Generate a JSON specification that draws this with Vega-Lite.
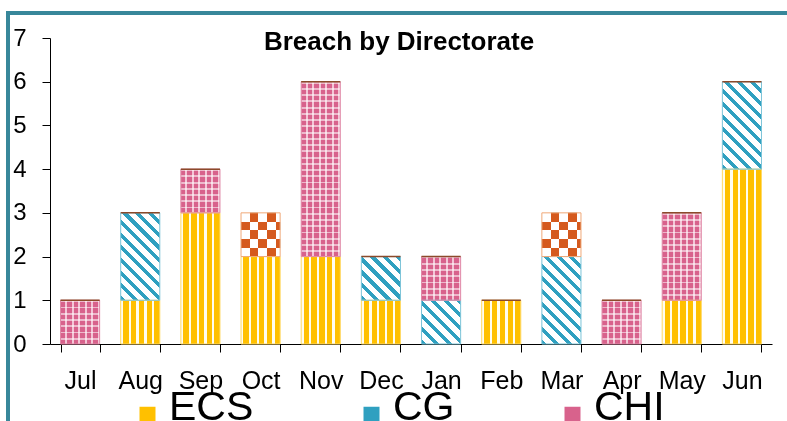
{
  "$schema": "https://vega.github.io/schema/vega-lite/v6.json",
  "autosize": {"type": "none"},
  "padding": {"left": 8, "top": 13, "right": -3, "bottom": -3},
  "width": 782,
  "height": 411,
  "background": "white",
  "config": {
    "font": "Liberation Sans",
    "view": {"stroke": "#38879A", "strokeWidth": 4, "fill": "white"}
  },
  "title": {"text": "Breach by Directorate", "font": "Liberation Sans", "fontSize": 26, "fontWeight": "bold", "color": "black", "anchor": "middle", "frame": "group", "baseline": "alphabetic", "offset": -63},
  "data": {"values": [
    {"month": "Jul", "series": "CHI", "n": 1, "k": 3},
    {"month": "Jul", "series": "Other", "n": 0, "k": 4},
    {"month": "Aug", "series": "ECS", "n": 1, "k": 1},
    {"month": "Aug", "series": "CG", "n": 2, "k": 2},
    {"month": "Aug", "series": "Other", "n": 0, "k": 4},
    {"month": "Sep", "series": "ECS", "n": 3, "k": 1},
    {"month": "Sep", "series": "CHI", "n": 1, "k": 3},
    {"month": "Sep", "series": "Other", "n": 0, "k": 4},
    {"month": "Oct", "series": "ECS", "n": 2, "k": 1},
    {"month": "Oct", "series": "Other", "n": 1, "k": 4},
    {"month": "Nov", "series": "ECS", "n": 2, "k": 1},
    {"month": "Nov", "series": "CHI", "n": 4, "k": 3},
    {"month": "Nov", "series": "Other", "n": 0, "k": 4},
    {"month": "Dec", "series": "ECS", "n": 1, "k": 1},
    {"month": "Dec", "series": "CG", "n": 1, "k": 2},
    {"month": "Dec", "series": "Other", "n": 0, "k": 4},
    {"month": "Jan", "series": "CG", "n": 1, "k": 2},
    {"month": "Jan", "series": "CHI", "n": 1, "k": 3},
    {"month": "Jan", "series": "Other", "n": 0, "k": 4},
    {"month": "Feb", "series": "ECS", "n": 1, "k": 1},
    {"month": "Feb", "series": "Other", "n": 0, "k": 4},
    {"month": "Mar", "series": "CG", "n": 2, "k": 2},
    {"month": "Mar", "series": "Other", "n": 1, "k": 4},
    {"month": "Apr", "series": "CHI", "n": 1, "k": 3},
    {"month": "Apr", "series": "Other", "n": 0, "k": 4},
    {"month": "May", "series": "ECS", "n": 1, "k": 1},
    {"month": "May", "series": "CHI", "n": 2, "k": 3},
    {"month": "May", "series": "Other", "n": 0, "k": 4},
    {"month": "Jun", "series": "ECS", "n": 4, "k": 1},
    {"month": "Jun", "series": "CG", "n": 2, "k": 2},
    {"month": "Jun", "series": "Other", "n": 0, "k": 4}
  ]},
  "encoding": {
    "x": {"field": "month", "type": "nominal", "sort": null,
      "scale": {"range": [42, 764], "paddingInner": 0.35, "paddingOuter": 0.175},
      "axis": {"title": null, "labelAngle": 0, "labelFontSize": 25, "labelFont": "Liberation Sans", "labelColor": "black", "domainColor": "black", "tickColor": "black", "tickSize": 8, "tickBand": "extent", "labelPadding": 16, "offset": -80, "grid": false}},
    "y": {"field": "n", "type": "quantitative", "stack": "zero",
      "scale": {"domain": [0, 7], "range": [331, 25], "nice": false},
      "axis": {"title": null, "values": [0, 1, 2, 3, 4, 5, 6, 7], "labelFontSize": 24, "labelFont": "Liberation Sans", "labelColor": "black", "domainColor": "black", "tickColor": "black", "tickSize": 8, "labelPadding": 16, "labelFlush": false, "offset": -42, "grid": false}},
    "order": {"field": "k", "type": "quantitative"},
    "detail": {"field": "series", "type": "nominal"}
  },
  "layer": [
    {
      "mark": {"type": "bar", "strokeWidth": 0},
      "encoding": {
        "fill": {
          "field": "series", "type": "nominal",
          "scale": {"domain": ["ECS", "CG", "CHI", "Other"], "range": ["#FFC000", "#2FA0C0", "#D8628C", "#D55A1E"]},
          "legend": {
            "orient": "none", "legendX": 119, "legendY": 381, "direction": "horizontal", "title": null,
            "values": ["ECS", "CG", "CHI"], "symbolType": "square", "symbolSize": 256, "symbolStrokeWidth": 0,
            "labelFontSize": 41, "labelFont": "Liberation Sans", "labelColor": "black", "labelOffset": 1,
            "columnPadding": 97, "padding": 0, "labelLimit": 300,
            "encode": {"labels": {"update": {"dy": {"value": -7}}}}
          },
          "condition": [
            {"test": "datum.series === 'ECS'", "value": {"gradient": "linear", "x1": 0, "y1": 0, "x2": 1, "y2": 0, "stops": [
              {"offset": 0, "color": "#FFFDF0"}, {"offset": 0.06, "color": "#FFFDF0"}, {"offset": 0.06, "color": "#FFC000"}, {"offset": 0.2, "color": "#FFC000"},
              {"offset": 0.2, "color": "#FFFDF0"}, {"offset": 0.26, "color": "#FFFDF0"}, {"offset": 0.26, "color": "#FFC000"}, {"offset": 0.4, "color": "#FFC000"},
              {"offset": 0.4, "color": "#FFFDF0"}, {"offset": 0.46, "color": "#FFFDF0"}, {"offset": 0.46, "color": "#FFC000"}, {"offset": 0.6, "color": "#FFC000"},
              {"offset": 0.6, "color": "#FFFDF0"}, {"offset": 0.66, "color": "#FFFDF0"}, {"offset": 0.66, "color": "#FFC000"}, {"offset": 0.8, "color": "#FFC000"},
              {"offset": 0.8, "color": "#FFFDF0"}, {"offset": 0.86, "color": "#FFFDF0"}, {"offset": 0.86, "color": "#FFC000"}, {"offset": 1, "color": "#FFC000"}]}},
            {"test": "datum.series === 'CG' && datum.n === 1", "value": {"gradient": "linear", "x1": 0, "y1": 1, "x2": 0.942, "y2": -0.052, "stops": [
              {"offset": 0, "color": "#2FA0C0"}, {"offset": 0.0625, "color": "#2FA0C0"}, {"offset": 0.0625, "color": "#FFFFFF"}, {"offset": 0.15625, "color": "#FFFFFF"},
              {"offset": 0.15625, "color": "#2FA0C0"}, {"offset": 0.21875, "color": "#2FA0C0"}, {"offset": 0.21875, "color": "#FFFFFF"}, {"offset": 0.3125, "color": "#FFFFFF"},
              {"offset": 0.3125, "color": "#2FA0C0"}, {"offset": 0.375, "color": "#2FA0C0"}, {"offset": 0.375, "color": "#FFFFFF"}, {"offset": 0.46875, "color": "#FFFFFF"},
              {"offset": 0.46875, "color": "#2FA0C0"}, {"offset": 0.53125, "color": "#2FA0C0"}, {"offset": 0.53125, "color": "#FFFFFF"}, {"offset": 0.625, "color": "#FFFFFF"},
              {"offset": 0.625, "color": "#2FA0C0"}, {"offset": 0.6875, "color": "#2FA0C0"}, {"offset": 0.6875, "color": "#FFFFFF"}, {"offset": 0.78125, "color": "#FFFFFF"},
              {"offset": 0.78125, "color": "#2FA0C0"}, {"offset": 0.84375, "color": "#2FA0C0"}, {"offset": 0.84375, "color": "#FFFFFF"}, {"offset": 0.9375, "color": "#FFFFFF"},
              {"offset": 0.9375, "color": "#2FA0C0"}, {"offset": 1, "color": "#2FA0C0"}]}},
            {"test": "datum.series === 'CG'", "value": {"gradient": "linear", "x1": 0, "y1": 1, "x2": 0.539, "y2": -0.206, "stops": [
              {"offset": 0, "color": "#2FA0C0"}, {"offset": 0.04, "color": "#2FA0C0"}, {"offset": 0.04, "color": "#FFFFFF"}, {"offset": 0.1, "color": "#FFFFFF"},
              {"offset": 0.1, "color": "#2FA0C0"}, {"offset": 0.14, "color": "#2FA0C0"}, {"offset": 0.14, "color": "#FFFFFF"}, {"offset": 0.2, "color": "#FFFFFF"},
              {"offset": 0.2, "color": "#2FA0C0"}, {"offset": 0.24, "color": "#2FA0C0"}, {"offset": 0.24, "color": "#FFFFFF"}, {"offset": 0.3, "color": "#FFFFFF"},
              {"offset": 0.3, "color": "#2FA0C0"}, {"offset": 0.34, "color": "#2FA0C0"}, {"offset": 0.34, "color": "#FFFFFF"}, {"offset": 0.4, "color": "#FFFFFF"},
              {"offset": 0.4, "color": "#2FA0C0"}, {"offset": 0.44, "color": "#2FA0C0"}, {"offset": 0.44, "color": "#FFFFFF"}, {"offset": 0.5, "color": "#FFFFFF"},
              {"offset": 0.5, "color": "#2FA0C0"}, {"offset": 0.54, "color": "#2FA0C0"}, {"offset": 0.54, "color": "#FFFFFF"}, {"offset": 0.6, "color": "#FFFFFF"},
              {"offset": 0.6, "color": "#2FA0C0"}, {"offset": 0.64, "color": "#2FA0C0"}, {"offset": 0.64, "color": "#FFFFFF"}, {"offset": 0.7, "color": "#FFFFFF"},
              {"offset": 0.7, "color": "#2FA0C0"}, {"offset": 0.74, "color": "#2FA0C0"}, {"offset": 0.74, "color": "#FFFFFF"}, {"offset": 0.8, "color": "#FFFFFF"},
              {"offset": 0.8, "color": "#2FA0C0"}, {"offset": 0.84, "color": "#2FA0C0"}, {"offset": 0.84, "color": "#FFFFFF"}, {"offset": 0.9, "color": "#FFFFFF"},
              {"offset": 0.9, "color": "#2FA0C0"}, {"offset": 0.94, "color": "#2FA0C0"}, {"offset": 0.94, "color": "#FFFFFF"}, {"offset": 1, "color": "#FFFFFF"}]}},
            {"test": "datum.series === 'CHI'", "value": {"gradient": "linear", "x1": 0, "y1": 0, "x2": 1, "y2": 0, "stops": [
              {"offset": 0, "color": "#D8628C"}, {"offset": 0.117, "color": "#D8628C"}, {"offset": 0.117, "color": "#F3C6D6"}, {"offset": 0.167, "color": "#F3C6D6"},
              {"offset": 0.167, "color": "#D8628C"}, {"offset": 0.283, "color": "#D8628C"}, {"offset": 0.283, "color": "#F3C6D6"}, {"offset": 0.333, "color": "#F3C6D6"},
              {"offset": 0.333, "color": "#D8628C"}, {"offset": 0.45, "color": "#D8628C"}, {"offset": 0.45, "color": "#F3C6D6"}, {"offset": 0.5, "color": "#F3C6D6"},
              {"offset": 0.5, "color": "#D8628C"}, {"offset": 0.617, "color": "#D8628C"}, {"offset": 0.617, "color": "#F3C6D6"}, {"offset": 0.667, "color": "#F3C6D6"},
              {"offset": 0.667, "color": "#D8628C"}, {"offset": 0.783, "color": "#D8628C"}, {"offset": 0.783, "color": "#F3C6D6"}, {"offset": 0.833, "color": "#F3C6D6"},
              {"offset": 0.833, "color": "#D8628C"}, {"offset": 0.95, "color": "#D8628C"}, {"offset": 0.95, "color": "#F3C6D6"}, {"offset": 1, "color": "#F3C6D6"}]}},
            {"test": "datum.series === 'Other'", "value": {"gradient": "linear", "x1": 0, "y1": 0, "x2": 1, "y2": 0, "stops": [
              {"offset": 0, "color": "#FFFFFF"}, {"offset": 0.2222, "color": "#FFFFFF"}, {"offset": 0.2222, "color": "#000000"}, {"offset": 0.4444, "color": "#000000"},
              {"offset": 0.4444, "color": "#FFFFFF"}, {"offset": 0.6667, "color": "#FFFFFF"}, {"offset": 0.6667, "color": "#000000"}, {"offset": 0.8889, "color": "#000000"},
              {"offset": 0.8889, "color": "#FFFFFF"}, {"offset": 1, "color": "#FFFFFF"}]}}
          ]
        }
      }
    },
    {
      "mark": {"type": "bar", "strokeWidth": 0},
      "encoding": {
        "fill": {
          "condition": [
            {"test": "datum.series === 'CHI' && datum.n === 4", "value": {"gradient": "linear", "x1": 0, "y1": 0, "x2": 0, "y2": 1, "stops": [
              {"offset": 0, "color": "rgba(255,255,255,0.55)"}, {"offset": 0.0107, "color": "rgba(255,255,255,0.55)"}, {"offset": 0.0107, "color": "rgba(255,255,255,0)"}, {"offset": 0.0357, "color": "rgba(255,255,255,0)"},
              {"offset": 0.0357, "color": "rgba(255,255,255,0.55)"}, {"offset": 0.0464, "color": "rgba(255,255,255,0.55)"}, {"offset": 0.0464, "color": "rgba(255,255,255,0)"}, {"offset": 0.0714, "color": "rgba(255,255,255,0)"},
              {"offset": 0.0714, "color": "rgba(255,255,255,0.55)"}, {"offset": 0.0821, "color": "rgba(255,255,255,0.55)"}, {"offset": 0.0821, "color": "rgba(255,255,255,0)"}, {"offset": 0.1071, "color": "rgba(255,255,255,0)"},
              {"offset": 0.1071, "color": "rgba(255,255,255,0.55)"}, {"offset": 0.1178, "color": "rgba(255,255,255,0.55)"}, {"offset": 0.1178, "color": "rgba(255,255,255,0)"}, {"offset": 0.1429, "color": "rgba(255,255,255,0)"},
              {"offset": 0.1429, "color": "rgba(255,255,255,0.55)"}, {"offset": 0.1536, "color": "rgba(255,255,255,0.55)"}, {"offset": 0.1536, "color": "rgba(255,255,255,0)"}, {"offset": 0.1786, "color": "rgba(255,255,255,0)"},
              {"offset": 0.1786, "color": "rgba(255,255,255,0.55)"}, {"offset": 0.1893, "color": "rgba(255,255,255,0.55)"}, {"offset": 0.1893, "color": "rgba(255,255,255,0)"}, {"offset": 0.2143, "color": "rgba(255,255,255,0)"},
              {"offset": 0.2143, "color": "rgba(255,255,255,0.55)"}, {"offset": 0.225, "color": "rgba(255,255,255,0.55)"}, {"offset": 0.225, "color": "rgba(255,255,255,0)"}, {"offset": 0.25, "color": "rgba(255,255,255,0)"},
              {"offset": 0.25, "color": "rgba(255,255,255,0.55)"}, {"offset": 0.2607, "color": "rgba(255,255,255,0.55)"}, {"offset": 0.2607, "color": "rgba(255,255,255,0)"}, {"offset": 0.2857, "color": "rgba(255,255,255,0)"},
              {"offset": 0.2857, "color": "rgba(255,255,255,0.55)"}, {"offset": 0.2964, "color": "rgba(255,255,255,0.55)"}, {"offset": 0.2964, "color": "rgba(255,255,255,0)"}, {"offset": 0.3214, "color": "rgba(255,255,255,0)"},
              {"offset": 0.3214, "color": "rgba(255,255,255,0.55)"}, {"offset": 0.3321, "color": "rgba(255,255,255,0.55)"}, {"offset": 0.3321, "color": "rgba(255,255,255,0)"}, {"offset": 0.3571, "color": "rgba(255,255,255,0)"},
              {"offset": 0.3571, "color": "rgba(255,255,255,0.55)"}, {"offset": 0.3678, "color": "rgba(255,255,255,0.55)"}, {"offset": 0.3678, "color": "rgba(255,255,255,0)"}, {"offset": 0.3929, "color": "rgba(255,255,255,0)"},
              {"offset": 0.3929, "color": "rgba(255,255,255,0.55)"}, {"offset": 0.4036, "color": "rgba(255,255,255,0.55)"}, {"offset": 0.4036, "color": "rgba(255,255,255,0)"}, {"offset": 0.4286, "color": "rgba(255,255,255,0)"},
              {"offset": 0.4286, "color": "rgba(255,255,255,0.55)"}, {"offset": 0.4393, "color": "rgba(255,255,255,0.55)"}, {"offset": 0.4393, "color": "rgba(255,255,255,0)"}, {"offset": 0.4643, "color": "rgba(255,255,255,0)"},
              {"offset": 0.4643, "color": "rgba(255,255,255,0.55)"}, {"offset": 0.475, "color": "rgba(255,255,255,0.55)"}, {"offset": 0.475, "color": "rgba(255,255,255,0)"}, {"offset": 0.5, "color": "rgba(255,255,255,0)"},
              {"offset": 0.5, "color": "rgba(255,255,255,0.55)"}, {"offset": 0.5107, "color": "rgba(255,255,255,0.55)"}, {"offset": 0.5107, "color": "rgba(255,255,255,0)"}, {"offset": 0.5357, "color": "rgba(255,255,255,0)"},
              {"offset": 0.5357, "color": "rgba(255,255,255,0.55)"}, {"offset": 0.5464, "color": "rgba(255,255,255,0.55)"}, {"offset": 0.5464, "color": "rgba(255,255,255,0)"}, {"offset": 0.5714, "color": "rgba(255,255,255,0)"},
              {"offset": 0.5714, "color": "rgba(255,255,255,0.55)"}, {"offset": 0.5821, "color": "rgba(255,255,255,0.55)"}, {"offset": 0.5821, "color": "rgba(255,255,255,0)"}, {"offset": 0.6071, "color": "rgba(255,255,255,0)"},
              {"offset": 0.6071, "color": "rgba(255,255,255,0.55)"}, {"offset": 0.6178, "color": "rgba(255,255,255,0.55)"}, {"offset": 0.6178, "color": "rgba(255,255,255,0)"}, {"offset": 0.6429, "color": "rgba(255,255,255,0)"},
              {"offset": 0.6429, "color": "rgba(255,255,255,0.55)"}, {"offset": 0.6536, "color": "rgba(255,255,255,0.55)"}, {"offset": 0.6536, "color": "rgba(255,255,255,0)"}, {"offset": 0.6786, "color": "rgba(255,255,255,0)"},
              {"offset": 0.6786, "color": "rgba(255,255,255,0.55)"}, {"offset": 0.6893, "color": "rgba(255,255,255,0.55)"}, {"offset": 0.6893, "color": "rgba(255,255,255,0)"}, {"offset": 0.7143, "color": "rgba(255,255,255,0)"},
              {"offset": 0.7143, "color": "rgba(255,255,255,0.55)"}, {"offset": 0.725, "color": "rgba(255,255,255,0.55)"}, {"offset": 0.725, "color": "rgba(255,255,255,0)"}, {"offset": 0.75, "color": "rgba(255,255,255,0)"},
              {"offset": 0.75, "color": "rgba(255,255,255,0.55)"}, {"offset": 0.7607, "color": "rgba(255,255,255,0.55)"}, {"offset": 0.7607, "color": "rgba(255,255,255,0)"}, {"offset": 0.7857, "color": "rgba(255,255,255,0)"},
              {"offset": 0.7857, "color": "rgba(255,255,255,0.55)"}, {"offset": 0.7964, "color": "rgba(255,255,255,0.55)"}, {"offset": 0.7964, "color": "rgba(255,255,255,0)"}, {"offset": 0.8214, "color": "rgba(255,255,255,0)"},
              {"offset": 0.8214, "color": "rgba(255,255,255,0.55)"}, {"offset": 0.8321, "color": "rgba(255,255,255,0.55)"}, {"offset": 0.8321, "color": "rgba(255,255,255,0)"}, {"offset": 0.8571, "color": "rgba(255,255,255,0)"},
              {"offset": 0.8571, "color": "rgba(255,255,255,0.55)"}, {"offset": 0.8678, "color": "rgba(255,255,255,0.55)"}, {"offset": 0.8678, "color": "rgba(255,255,255,0)"}, {"offset": 0.8929, "color": "rgba(255,255,255,0)"},
              {"offset": 0.8929, "color": "rgba(255,255,255,0.55)"}, {"offset": 0.9036, "color": "rgba(255,255,255,0.55)"}, {"offset": 0.9036, "color": "rgba(255,255,255,0)"}, {"offset": 0.9286, "color": "rgba(255,255,255,0)"},
              {"offset": 0.9286, "color": "rgba(255,255,255,0.55)"}, {"offset": 0.9393, "color": "rgba(255,255,255,0.55)"}, {"offset": 0.9393, "color": "rgba(255,255,255,0)"}, {"offset": 0.9643, "color": "rgba(255,255,255,0)"},
              {"offset": 0.9643, "color": "rgba(255,255,255,0.55)"}, {"offset": 0.975, "color": "rgba(255,255,255,0.55)"}, {"offset": 0.975, "color": "rgba(255,255,255,0)"}, {"offset": 1, "color": "rgba(255,255,255,0)"}]}},
            {"test": "datum.series === 'CHI' && datum.n === 2", "value": {"gradient": "linear", "x1": 0, "y1": 0, "x2": 0, "y2": 1, "stops": [
              {"offset": 0, "color": "rgba(255,255,255,0.55)"}, {"offset": 0.0214, "color": "rgba(255,255,255,0.55)"}, {"offset": 0.0214, "color": "rgba(255,255,255,0)"}, {"offset": 0.0714, "color": "rgba(255,255,255,0)"},
              {"offset": 0.0714, "color": "rgba(255,255,255,0.55)"}, {"offset": 0.0929, "color": "rgba(255,255,255,0.55)"}, {"offset": 0.0929, "color": "rgba(255,255,255,0)"}, {"offset": 0.1429, "color": "rgba(255,255,255,0)"},
              {"offset": 0.1429, "color": "rgba(255,255,255,0.55)"}, {"offset": 0.1643, "color": "rgba(255,255,255,0.55)"}, {"offset": 0.1643, "color": "rgba(255,255,255,0)"}, {"offset": 0.2143, "color": "rgba(255,255,255,0)"},
              {"offset": 0.2143, "color": "rgba(255,255,255,0.55)"}, {"offset": 0.2357, "color": "rgba(255,255,255,0.55)"}, {"offset": 0.2357, "color": "rgba(255,255,255,0)"}, {"offset": 0.2857, "color": "rgba(255,255,255,0)"},
              {"offset": 0.2857, "color": "rgba(255,255,255,0.55)"}, {"offset": 0.3071, "color": "rgba(255,255,255,0.55)"}, {"offset": 0.3071, "color": "rgba(255,255,255,0)"}, {"offset": 0.3571, "color": "rgba(255,255,255,0)"},
              {"offset": 0.3571, "color": "rgba(255,255,255,0.55)"}, {"offset": 0.3786, "color": "rgba(255,255,255,0.55)"}, {"offset": 0.3786, "color": "rgba(255,255,255,0)"}, {"offset": 0.4286, "color": "rgba(255,255,255,0)"},
              {"offset": 0.4286, "color": "rgba(255,255,255,0.55)"}, {"offset": 0.45, "color": "rgba(255,255,255,0.55)"}, {"offset": 0.45, "color": "rgba(255,255,255,0)"}, {"offset": 0.5, "color": "rgba(255,255,255,0)"},
              {"offset": 0.5, "color": "rgba(255,255,255,0.55)"}, {"offset": 0.5214, "color": "rgba(255,255,255,0.55)"}, {"offset": 0.5214, "color": "rgba(255,255,255,0)"}, {"offset": 0.5714, "color": "rgba(255,255,255,0)"},
              {"offset": 0.5714, "color": "rgba(255,255,255,0.55)"}, {"offset": 0.5929, "color": "rgba(255,255,255,0.55)"}, {"offset": 0.5929, "color": "rgba(255,255,255,0)"}, {"offset": 0.6429, "color": "rgba(255,255,255,0)"},
              {"offset": 0.6429, "color": "rgba(255,255,255,0.55)"}, {"offset": 0.6643, "color": "rgba(255,255,255,0.55)"}, {"offset": 0.6643, "color": "rgba(255,255,255,0)"}, {"offset": 0.7143, "color": "rgba(255,255,255,0)"},
              {"offset": 0.7143, "color": "rgba(255,255,255,0.55)"}, {"offset": 0.7357, "color": "rgba(255,255,255,0.55)"}, {"offset": 0.7357, "color": "rgba(255,255,255,0)"}, {"offset": 0.7857, "color": "rgba(255,255,255,0)"},
              {"offset": 0.7857, "color": "rgba(255,255,255,0.55)"}, {"offset": 0.8071, "color": "rgba(255,255,255,0.55)"}, {"offset": 0.8071, "color": "rgba(255,255,255,0)"}, {"offset": 0.8571, "color": "rgba(255,255,255,0)"},
              {"offset": 0.8571, "color": "rgba(255,255,255,0.55)"}, {"offset": 0.8786, "color": "rgba(255,255,255,0.55)"}, {"offset": 0.8786, "color": "rgba(255,255,255,0)"}, {"offset": 0.9286, "color": "rgba(255,255,255,0)"},
              {"offset": 0.9286, "color": "rgba(255,255,255,0.55)"}, {"offset": 0.95, "color": "rgba(255,255,255,0.55)"}, {"offset": 0.95, "color": "rgba(255,255,255,0)"}, {"offset": 1, "color": "rgba(255,255,255,0)"}]}},
            {"test": "datum.series === 'CHI'", "value": {"gradient": "linear", "x1": 0, "y1": 0, "x2": 0, "y2": 1, "stops": [
              {"offset": 0, "color": "rgba(255,255,255,0.55)"}, {"offset": 0.0429, "color": "rgba(255,255,255,0.55)"}, {"offset": 0.0429, "color": "rgba(255,255,255,0)"}, {"offset": 0.1429, "color": "rgba(255,255,255,0)"},
              {"offset": 0.1429, "color": "rgba(255,255,255,0.55)"}, {"offset": 0.1857, "color": "rgba(255,255,255,0.55)"}, {"offset": 0.1857, "color": "rgba(255,255,255,0)"}, {"offset": 0.2857, "color": "rgba(255,255,255,0)"},
              {"offset": 0.2857, "color": "rgba(255,255,255,0.55)"}, {"offset": 0.3286, "color": "rgba(255,255,255,0.55)"}, {"offset": 0.3286, "color": "rgba(255,255,255,0)"}, {"offset": 0.4286, "color": "rgba(255,255,255,0)"},
              {"offset": 0.4286, "color": "rgba(255,255,255,0.55)"}, {"offset": 0.4714, "color": "rgba(255,255,255,0.55)"}, {"offset": 0.4714, "color": "rgba(255,255,255,0)"}, {"offset": 0.5714, "color": "rgba(255,255,255,0)"},
              {"offset": 0.5714, "color": "rgba(255,255,255,0.55)"}, {"offset": 0.6143, "color": "rgba(255,255,255,0.55)"}, {"offset": 0.6143, "color": "rgba(255,255,255,0)"}, {"offset": 0.7143, "color": "rgba(255,255,255,0)"},
              {"offset": 0.7143, "color": "rgba(255,255,255,0.55)"}, {"offset": 0.7571, "color": "rgba(255,255,255,0.55)"}, {"offset": 0.7571, "color": "rgba(255,255,255,0)"}, {"offset": 0.8571, "color": "rgba(255,255,255,0)"},
              {"offset": 0.8571, "color": "rgba(255,255,255,0.55)"}, {"offset": 0.9, "color": "rgba(255,255,255,0.55)"}, {"offset": 0.9, "color": "rgba(255,255,255,0)"}, {"offset": 1, "color": "rgba(255,255,255,0)"}]}}
          ],
          "value": "transparent"
        }
      }
    },
    {
      "mark": {"type": "bar", "strokeWidth": 0, "blend": "difference"},
      "encoding": {
        "fill": {
          "condition": {"test": "datum.series === 'Other'", "value": {"gradient": "linear", "x1": 0, "y1": 0, "x2": 0, "y2": 1, "stops": [
            {"offset": 0, "color": "#000000"}, {"offset": 0.2, "color": "#000000"}, {"offset": 0.2, "color": "#FFFFFF"}, {"offset": 0.4, "color": "#FFFFFF"},
            {"offset": 0.4, "color": "#000000"}, {"offset": 0.6, "color": "#000000"}, {"offset": 0.6, "color": "#FFFFFF"}, {"offset": 0.8, "color": "#FFFFFF"},
            {"offset": 0.8, "color": "#000000"}, {"offset": 1, "color": "#000000"}]}},
          "value": "transparent"
        }
      }
    },
    {
      "mark": {"type": "bar", "strokeWidth": 0, "blend": "screen"},
      "encoding": {
        "fill": {"condition": {"test": "datum.series === 'Other'", "value": "#D55A1E"}, "value": "transparent"}
      }
    },
    {
      "mark": {"type": "bar", "fill": "transparent"},
      "encoding": {
        "stroke": {
          "field": "series", "type": "nominal",
          "scale": {"domain": ["ECS", "CG", "CHI", "Other"], "range": ["#FFD966", "#7CC4D8", "#E08AA8", "#F0A878"]},
          "legend": null,
          "condition": {"test": "datum.n === 0", "value": "#8B4A2A"}
        },
        "strokeWidth": {"condition": {"test": "datum.n === 0", "value": 1.5}, "value": 1}
      }
    }
  ]
}
